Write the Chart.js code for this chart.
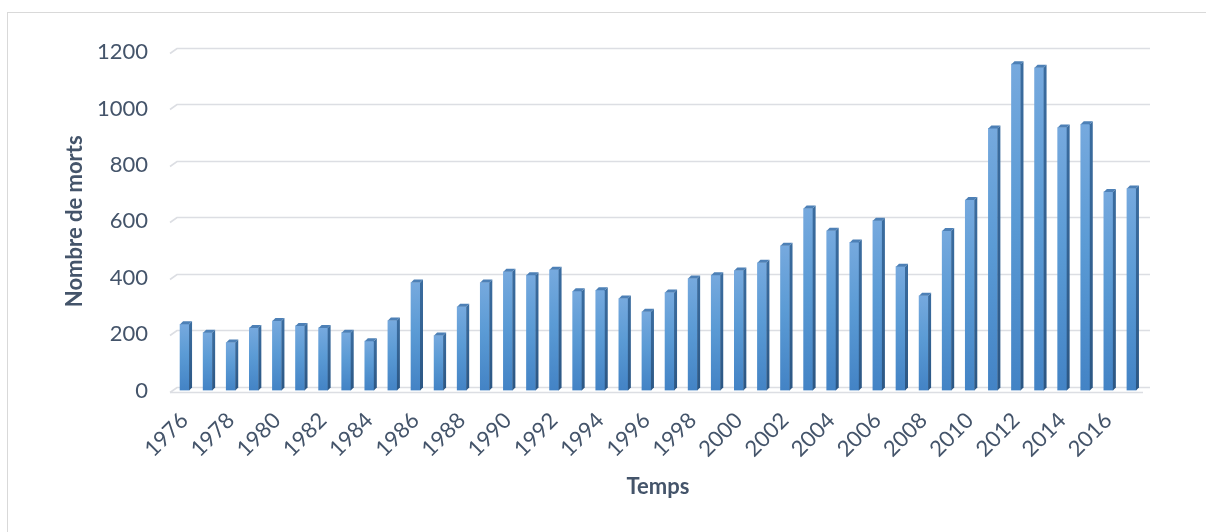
<!DOCTYPE html>
<html lang="fr">
<head>
<meta charset="utf-8">
<title>Nombre de morts par année</title>
<script src="https://cdn.jsdelivr.net/npm/chart.js@4.4.1/dist/chart.umd.min.js"></script>
<style>
  html, body { margin: 0; padding: 0; background: #ffffff; }
  #wrap { width: 1206px; height: 532px; position: relative; }
  canvas { display: block; }
</style>
</head>
<body>
<div id="wrap"><canvas id="chart" width="1206" height="532"></canvas></div>
<script>
// Années (axe horizontal)
const years = ['1976','1977','1978','1979','1980','1981','1982','1983','1984','1985',
  '1986','1987','1988','1989','1990','1991','1992','1993','1994','1995',
  '1996','1997','1998','1999','2000','2001','2002','2003','2004','2005',
  '2006','2007','2008','2009','2010','2011','2012','2013','2014','2015',
  '2016','2017'];

// Nombre de morts par année
const deaths = [235, 205, 170, 222, 246, 229, 222, 205, 175, 248,
  383, 195, 297, 383, 421, 409, 428, 352, 355, 326,
  279, 347, 397, 409, 425, 453, 513, 645, 566, 525,
  602, 439, 336, 565, 675, 929, 1157, 1144, 932, 944,
  704, 716];

// Graduations de l'axe vertical
const yMin = 0;
const yMax = 1200;
const yStep = 200;

const textColor = '#44546A';
const gridColor = '#DCDEE3';
const depth = 3;

// Face avant : dégradé vertical propre à chaque barre
function frontFill(c) {
  const chart = c.chart;
  const ys = chart.scales.y;
  if (!ys || c.raw == null) return '#5B9BD5';
  const top = ys.getPixelForValue(c.raw);
  const bottom = ys.getPixelForValue(0);
  if (!isFinite(top) || !isFinite(bottom) || bottom - top < 1) return '#5B9BD5';
  const g = chart.ctx.createLinearGradient(0, top, 0, bottom);
  g.addColorStop(0, '#76A9DE');
  g.addColorStop(0.45, '#5B9BD5');
  g.addColorStop(1, '#4383C5');
  return g;
}

// Cadre, quadrillage en perspective et sol
const backdrop = {
  id: 'backdrop',
  beforeDraw(chart) {
    const ctx = chart.ctx;
    ctx.save();
    ctx.fillStyle = '#ffffff';
    ctx.fillRect(0, 0, chart.width, chart.height);
    ctx.strokeStyle = '#D9D9D9';
    ctx.lineWidth = 1;
    ctx.strokeRect(7.5, 12.5, 1400, 700);
    ctx.restore();
  },
  beforeDatasetsDraw(chart) {
    const ctx = chart.ctx;
    const ys = chart.scales.y;
    const a = chart.chartArea;
    ctx.save();
    ctx.strokeStyle = gridColor;
    ctx.lineWidth = 1.6;
    ys.ticks.forEach(t => {
      const yf = Math.round(ys.getPixelForValue(t.value)) + 0.5;
      const yb = yf - 4;
      ctx.beginPath();
      ctx.moveTo(a.left - 3, yf + 1);
      ctx.lineTo(a.left + 4, yb);
      ctx.lineTo(a.right + 7, yb);
      ctx.stroke();
    });
    const y0 = Math.round(ys.getPixelForValue(0)) + 0.5;
    ctx.beginPath();
    ctx.moveTo(a.left - 3, y0 + 1);
    ctx.lineTo(a.right, y0 + 1);
    ctx.stroke();
    ctx.restore();
  }
};

// Relief des barres : face latérale et dessus
const bar3d = {
  id: 'bar3d',
  afterDatasetsDraw(chart) {
    const ctx = chart.ctx;
    const meta = chart.getDatasetMeta(0);
    ctx.save();
    meta.data.forEach(bar => {
      const p = bar.getProps(['x', 'y', 'base', 'width'], true);
      const l = p.x - p.width / 2;
      const r = p.x + p.width / 2;
      const side = ctx.createLinearGradient(0, p.y, 0, p.base);
      side.addColorStop(0, '#3A6C9F');
      side.addColorStop(1, '#2C5784');
      ctx.fillStyle = side;
      ctx.beginPath();
      ctx.moveTo(r, p.y);
      ctx.lineTo(r + depth, p.y - depth);
      ctx.lineTo(r + depth, p.base - depth);
      ctx.lineTo(r, p.base);
      ctx.closePath();
      ctx.fill();
      ctx.fillStyle = '#4D80B6';
      ctx.beginPath();
      ctx.moveTo(l, p.y);
      ctx.lineTo(l + depth, p.y - depth);
      ctx.lineTo(r + depth, p.y - depth);
      ctx.lineTo(r, p.y);
      ctx.closePath();
      ctx.fill();
    });
    ctx.restore();
  }
};

new Chart(document.getElementById('chart'), {
  type: 'bar',
  data: {
    labels: years,
    datasets: [{
      label: 'Nombre de morts',
      data: deaths,
      backgroundColor: frontFill,
      borderWidth: 0,
      barThickness: 9,
      categoryPercentage: 1,
      barPercentage: 1
    }]
  },
  options: {
    responsive: false,
    animation: false,
    devicePixelRatio: 1,
    layout: { padding: { left: 0, top: 52, right: 63, bottom: 0 } },
    plugins: {
      legend: { display: false },
      tooltip: { enabled: false }
    },
    scales: {
      x: {
        grid: { display: false, drawTicks: false },
        border: { display: false },
        ticks: {
          color: textColor,
          font: { family: 'Lato', size: 22 },
          autoSkip: false,
          maxRotation: 45,
          minRotation: 45,
          padding: 17,
          callback: function (value, index) {
            return index % 2 === 0 ? this.getLabelForValue(value) : '';
          }
        },
        title: {
          display: true,
          text: 'Temps',
          color: textColor,
          font: { family: 'Lato', size: 22, weight: 'bold' },
          padding: { top: 0, bottom: 32 }
        },
        afterFit(scale) { scale.height = 141.5; }
      },
      y: {
        min: yMin,
        max: yMax,
        grid: { display: false, drawTicks: false },
        border: { display: false },
        ticks: {
          stepSize: yStep,
          color: textColor,
          font: { family: 'Lato', size: 22 },
          padding: 25,
          callback: value => String(value)
        },
        title: {
          display: true,
          text: 'Nombre de morts',
          color: textColor,
          font: { family: 'Lato', size: 22, weight: 'bold' },
          padding: { top: 62, bottom: 0 }
        },
        afterFit(scale) { scale.width = 173; }
      }
    }
  },
  plugins: [backdrop, bar3d]
});
</script>
</body>
</html>
